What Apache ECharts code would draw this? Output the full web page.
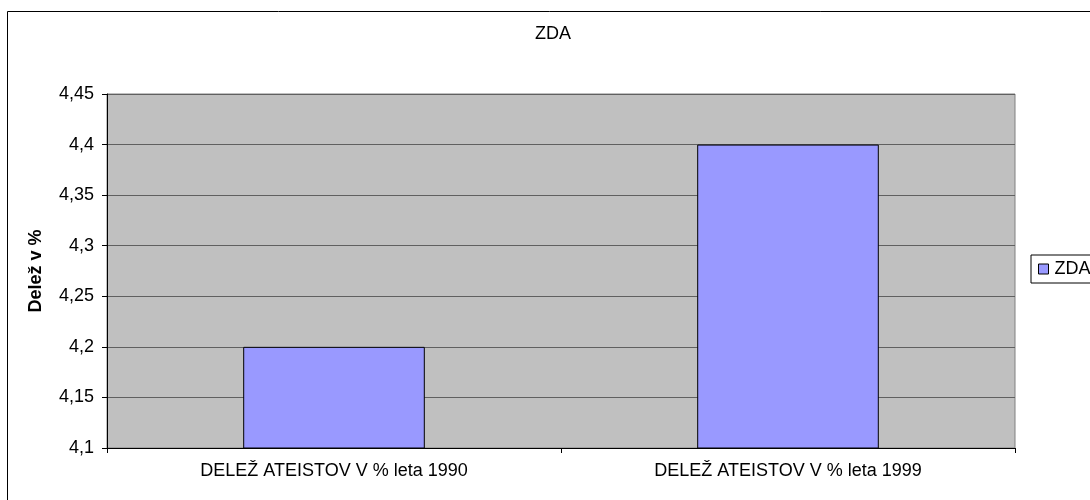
<!DOCTYPE html>
<html>
<head>
<meta charset="utf-8">
<script src="https://cdn.jsdelivr.net/npm/echarts@6/dist/echarts.min.js"></script>
<style>
  html, body { margin: 0; padding: 0; background: #fff; }
  #chart { width: 1090px; height: 500px; }
</style>
</head>
<body>
<div id="chart"></div>
<script>
// data
var categories = ['DELEŽ ATEISTOV V % leta 1990', 'DELEŽ ATEISTOV V % leta 1999'];
var zdaValues = [4.2, 4.4];
var yMin = 4.1, yMax = 4.45, yStep = 0.05;

var myChart = echarts.init(document.getElementById('chart'));
var font = 'Liberation Sans, Arial, sans-serif';

var option = {
    animation: false,
    textStyle: { fontFamily: font },
    title: {
        text: 'ZDA',
        left: 535,
        top: 25,
        padding: 0,
        textStyle: { fontSize: 18, fontWeight: 'normal', color: '#000', fontFamily: font }
    },
    graphic: [{
        type: 'rect',
        shape: { x: 7.5, y: 11.5, width: 1100, height: 520 },
        style: { fill: 'none', stroke: '#000', lineWidth: 1 },
        silent: true
    }],
    legend: {
        data: [{ name: 'ZDA', icon: 'rect' }],
        orient: 'vertical',
        left: 1031,
        top: 255,
        itemWidth: 10,
        itemHeight: 10,
        padding: [5, 4, 5, 7],
        borderColor: '#000',
        borderWidth: 1,
        backgroundColor: '#fff',
        itemStyle: { borderColor: '#000', borderWidth: 1 },
        textStyle: { fontSize: 18, color: '#000', fontFamily: font, padding: [0, 0, 0, 1] }
    },
    grid: {
        left: 107,
        right: 75,
        top: 94,
        bottom: 52,
        show: true,
        backgroundColor: '#C0C0C0',
        borderColor: '#808080',
        borderWidth: 1
    },
    xAxis: {
        type: 'category',
        data: categories,
        axisLine: { show: true, lineStyle: { color: '#000' } },
        axisTick: { show: true, length: 5, lineStyle: { color: '#000' } },
        axisLabel: { fontSize: 18, color: '#000', margin: 14, fontFamily: font },
        splitLine: { show: false }
    },
    yAxis: {
        type: 'value',
        min: yMin,
        max: yMax,
        interval: yStep,
        name: 'Delež v %',
        nameLocation: 'middle',
        nameGap: 62,
        nameTextStyle: { fontSize: 18, fontWeight: 'bold', color: '#000', fontFamily: font },
        axisLine: { show: true, lineStyle: { color: '#000' } },
        axisTick: { show: true, length: 5, lineStyle: { color: '#000' } },
        axisLabel: {
            fontSize: 18,
            color: '#000',
            margin: 13,
            fontFamily: font,
            formatter: function (v) {
                return String(Math.round(v * 100) / 100).replace('.', ',');
            }
        },
        splitLine: { show: true, lineStyle: { color: '#606060', width: 1 } }
    },
    series: [{
        name: 'ZDA',
        type: 'bar',
        data: zdaValues,
        barCategoryGap: '60%',
        itemStyle: { color: '#9999FF', borderColor: '#000', borderWidth: 1 }
    }]
};
myChart.setOption(option);
</script>
</body>
</html>
